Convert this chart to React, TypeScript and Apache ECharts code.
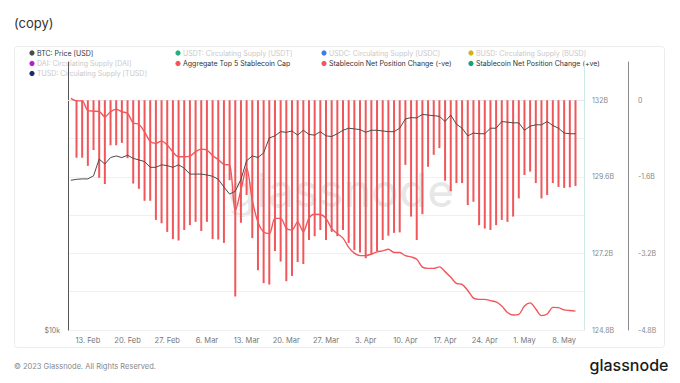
import React, { useEffect, useRef } from 'react';
import * as echarts from 'echarts';

// Daily dates (UTC) of the lines
const dates = [
  '2023-02-10','2023-02-11','2023-02-12','2023-02-13','2023-02-14','2023-02-15','2023-02-16','2023-02-17','2023-02-18','2023-02-19',
  '2023-02-20','2023-02-21','2023-02-22','2023-02-23','2023-02-24','2023-02-25','2023-02-26','2023-02-27','2023-02-28','2023-03-01',
  '2023-03-02','2023-03-03','2023-03-04','2023-03-05','2023-03-06','2023-03-07','2023-03-08','2023-03-09','2023-03-10','2023-03-11',
  '2023-03-12','2023-03-13','2023-03-14','2023-03-15','2023-03-16','2023-03-17','2023-03-18','2023-03-19','2023-03-20','2023-03-21',
  '2023-03-22','2023-03-23','2023-03-24','2023-03-25','2023-03-26','2023-03-27','2023-03-28','2023-03-29','2023-03-30','2023-03-31',
  '2023-04-01','2023-04-02','2023-04-03','2023-04-04','2023-04-05','2023-04-06','2023-04-07','2023-04-08','2023-04-09','2023-04-10',
  '2023-04-11','2023-04-12','2023-04-13','2023-04-14','2023-04-15','2023-04-16','2023-04-17','2023-04-18','2023-04-19','2023-04-20',
  '2023-04-21','2023-04-22','2023-04-23','2023-04-24','2023-04-25','2023-04-26','2023-04-27','2023-04-28','2023-04-29','2023-04-30',
  '2023-05-01','2023-05-02','2023-05-03','2023-05-04','2023-05-05','2023-05-06','2023-05-07','2023-05-08','2023-05-09','2023-05-10',
];
// one empty day of padding at the right end of the time axis
const padDates = ['2023-05-11'];

// BTC: Price [USD]
const btcPrice = [
  21700, 21800, 21850, 21850, 22200, 24200, 23600, 24400, 24600, 24400,
  24700, 24300, 24100, 23900, 23200, 23200, 23500, 23400, 23200, 23500,
  23100, 22400, 22400, 22400, 22300, 22150, 21800, 20950, 20200, 20500,
  21800, 24000, 24600, 24400, 25000, 27000, 27300, 27900, 27800, 28000,
  27400, 28100, 27500, 27400, 27900, 27300, 27200, 27600, 28100, 28400,
  28300, 28200, 27800, 28100, 28100, 28000, 27900, 27900, 28400, 29800,
  30000, 29950, 30500, 30400, 30300, 30200, 29400, 30400, 29000, 28400,
  27300, 27700, 27600, 27600, 28400, 28400, 29400, 29300, 29200, 29200,
  28100, 28700, 28900, 28900, 29400, 28800, 28400, 27700, 27600, 27600,
];

// Aggregate Top 5 Stablecoin Cap [billion USD]
const aggregateCapB = [
  132.06, 131.98, 131.98, 131.68, 131.66, 131.65, 131.48, 131.64, 131.72, 131.64,
  131.59, 131.29, 131.25, 131.01, 130.71, 130.65, 130.72, 130.60, 130.38, 130.23,
  130.23, 130.25, 130.39, 130.47, 130.44, 130.27, 130.14, 129.99, 129.97, 128.53,
  129.19, 129.88, 128.87, 128.18, 127.87, 127.82, 128.30, 128.30, 127.99, 127.93,
  128.19, 127.88, 128.31, 128.43, 128.42, 128.30, 127.98, 127.82, 127.68, 127.39,
  127.21, 127.13, 127.13, 127.18, 127.25, 127.28, 127.33, 127.23, 127.23, 127.13,
  127.09, 127.02, 126.77, 126.73, 126.73, 126.78, 126.63, 126.45, 126.26, 126.23,
  126.04, 125.80, 125.76, 125.76, 125.72, 125.68, 125.55, 125.35, 125.27, 125.29,
  125.55, 125.65, 125.46, 125.25, 125.30, 125.51, 125.50, 125.43, 125.41, 125.39,
];

// Stablecoin Net Position Change (-ve) [billion USD], from 2023-02-11
const netChangeB = [
  -1.20, -1.20, -1.37, -1.04, -1.62, -1.75, -0.94, -0.94, -0.89, -1.21,
  -1.74, -1.85, -2.10, -2.10, -2.50, -2.57, -2.75, -2.90, -2.93, -2.71,
  -2.61, -2.54, -2.73, -2.54, -2.90, -2.91, -2.98, -1.67, -4.10, -2.56,
  -1.98, -2.88, -3.55, -3.82, -3.85, -3.15, -3.37, -3.78, -3.67, -3.38,
  -3.42, -2.92, -2.84, -2.71, -2.92, -2.75, -2.84, -2.71, -2.98, -3.13,
  -3.18, -3.30, -3.23, -3.16, -2.92, -2.83, -2.77, -2.76, -1.35, -2.43,
  -2.92, -2.38, -1.39, -1.14, -1.00, -1.68, -1.90, -1.73, -1.73, -2.19,
  -2.12, -2.61, -2.68, -2.71, -2.61, -2.50, -2.54, -2.43, -2.05, -1.56,
  -1.49, -1.73, -2.05, -1.98, -1.73, -1.81, -1.83, -1.82, -1.79,
];

const monthNames = ['Jan','Feb','Mar','Apr','May','Jun','Jul','Aug','Sep','Oct','Nov','Dec'];

const legendItems = [
  { name: 'BTC: Price [USD]', color: '#4a4a4a', active: true },
  { name: 'USDT: Circulating Supply [USDT]', color: '#22b07d', active: false },
  { name: 'USDC: Circulating Supply [USDC]', color: '#3b7ded', active: false },
  { name: 'BUSD: Circulating Supply [BUSD]', color: '#d2b21c', active: false },
  { name: 'DAI: Circulating Supply [DAI]', color: '#b51fc9', active: false },
  { name: 'Aggregate Top 5 Stablecoin Cap', color: '#f0575b', active: true },
  { name: 'Stablecoin Net Position Change (-ve)', color: '#f0575b', active: true },
  { name: 'Stablecoin Net Position Change (+ve)', color: '#14a27a', active: true },
  { name: 'TUSD: Circulating Supply [TUSD]', color: '#1f2870', active: false },
];

const FONT = 'Inter, "Noto Sans", sans-serif';
const RED = '#f0575b';

export default function App() {
  const ref = useRef<HTMLDivElement>(null);

  useEffect(() => {
    const chart = echarts.init(ref.current!, null, { renderer: 'svg' });
    const categories = [...dates, ...padDates];
    const btcData = btcPrice.map((v) => v);
    const aggData = aggregateCapB.map((v) => v * 1e9);
    const netData: (number | null)[] = [null, ...netChangeB.map((v) => v * 1e9)];

    const colX = [32, 178, 324, 471];
    const rowY = [53, 63.5, 73.5];
    const legendGraphics: any[] = [];
    legendItems.forEach((it, i) => {
      const col = i % 4;
      const row = Math.floor(i / 4);
      legendGraphics.push({
        type: 'circle',
        shape: { cx: colX[col], cy: rowY[row], r: 2.6 },
        style: { fill: it.color },
        silent: true,
      });
      legendGraphics.push({
        type: 'text',
        x: colX[col] + 5,
        y: rowY[row],
        style: {
          text: it.name,
          fill: it.active ? '#333' : '#c9c9c9',
          fontSize: 7,
          fontFamily: FONT,
          verticalAlign: 'middle',
        },
        silent: true,
      });
    });

    const option: any = {
      animation: false,
      backgroundColor: '#fff',
      textStyle: { fontFamily: FONT },
      grid: { left: 68, right: 96, top: 62, bottom: 53, containLabel: false },
      xAxis: {
        type: 'category',
        data: categories,
        boundaryGap: true,
        axisLine: { show: true, lineStyle: { color: '#e8e8e8' } },
        axisTick: { show: false },
        splitLine: { show: false },
        axisLabel: {
          interval: (_idx: number, value: string) => new Date(value + 'T00:00:00Z').getUTCDay() === 1,
          formatter: (value: string) => {
            const d = new Date(value + 'T00:00:00Z');
            return `${d.getUTCDate()}. ${monthNames[d.getUTCMonth()]}`;
          },
          color: '#777',
          fontSize: 7.5,
          fontFamily: FONT,
          margin: 6,
        },
      },
      yAxis: [
        {
          type: 'log',
          logBase: 10,
          min: 10000,
          max: 40000,
          position: 'left',
          axisLine: { show: true, lineStyle: { color: '#555' } },
          axisTick: { show: false },
          splitLine: { show: false },
          axisLabel: {
            formatter: (v: number) => (Math.abs(v - 10000) < 1 ? '$10k' : ''),
            color: '#777',
            fontSize: 7,
            fontFamily: FONT,
            margin: 8,
            padding: [0, 0, 5, 0],
            showMaxLabel: false,
          },
        },
        {
          type: 'value',
          min: 124.8e9,
          max: 133.2e9,
          interval: 1.2e9,
          position: 'right',
          offset: 0,
          axisLine: { show: true, lineStyle: { color: '#cfeae5' } },
          axisTick: { show: false },
          splitLine: { show: false },
          axisLabel: {
            formatter: (v: number) => {
              const k = Math.round((v - 124.8e9) / 1.2e9);
              if (k % 2 !== 0 || k > 6) return '';
              return `${parseFloat((v / 1e9).toFixed(1))}B`;
            },
            color: '#888',
            fontSize: 7,
            fontFamily: FONT,
            margin: 8,
            padding: [0, 0, 5, 0],
          },
        },
        {
          type: 'value',
          min: -4.8e9,
          max: 0.8e9,
          interval: 0.8e9,
          position: 'right',
          offset: 44,
          axisLine: { show: true, lineStyle: { color: '#8a8a8a' } },
          axisTick: { show: false },
          splitLine: { show: true, showMaxLine: false, lineStyle: { color: '#f0f0f0', width: 1 } },
          axisLabel: {
            formatter: (v: number) => {
              const k = Math.round((v + 4.8e9) / 0.8e9);
              if (k % 2 !== 0 || k > 6) return '';
              if (Math.abs(v) < 1) return '0';
              return `${parseFloat((v / 1e9).toFixed(1))}B`;
            },
            color: '#888',
            fontSize: 7,
            fontFamily: FONT,
            margin: 10,
            padding: [0, 0, 5, 0],
          },
        },
      ],
      series: [
        {
          name: 'Stablecoin Net Position Change (-ve)',
          type: 'bar',
          yAxisIndex: 2,
          data: netData,
          barWidth: 2,
          itemStyle: { color: RED },
          z: 2,
        },
        {
          name: 'Aggregate Top 5 Stablecoin Cap',
          type: 'line',
          yAxisIndex: 1,
          data: aggData,
          showSymbol: false,
          smooth: 0.3,
          lineStyle: { color: RED, width: 1.4 },
          itemStyle: { color: RED },
          z: 3,
        },
        {
          name: 'BTC: Price [USD]',
          type: 'line',
          yAxisIndex: 0,
          data: btcData,
          showSymbol: false,
          lineStyle: { color: '#4a4a4a', width: 1 },
          itemStyle: { color: '#4a4a4a' },
          z: 4,
        },
      ],
      graphic: [
        {
          type: 'text',
          x: 341,
          y: 190,
          z: -10,
          silent: true,
          style: {
            text: 'glassnode',
            fill: 'rgba(0,0,0,0.09)',
            fontSize: 46,
            fontWeight: 500,
            fontFamily: FONT,
            align: 'center',
            verticalAlign: 'middle',
          },
        },
        {
          type: 'rect',
          silent: true,
          z: -11,
          shape: { x: 14.5, y: 46.5, width: 650, height: 301, r: 3 },
          style: { fill: 'none', stroke: '#ececec', lineWidth: 1 },
        },
        {
          type: 'text',
          x: 14,
          y: 23,
          silent: true,
          style: { text: '(copy)', fill: '#333', fontSize: 13, fontFamily: FONT, verticalAlign: 'middle' },
        },
        {
          type: 'text',
          x: 14,
          y: 366,
          silent: true,
          style: {
            text: '© 2023 Glassnode. All Rights Reserved.',
            fill: '#888',
            fontSize: 7.5,
            fontFamily: FONT,
            verticalAlign: 'middle',
          },
        },
        {
          type: 'text',
          x: 629,
          y: 365,
          silent: true,
          style: {
            text: 'glassnode',
            fill: '#1a1a1a',
            fontSize: 16,
            fontWeight: 500,
            fontFamily: FONT,
            align: 'center',
            verticalAlign: 'middle',
          },
        },
        ...legendGraphics,
      ],
    };

    chart.setOption(option);
    return () => chart.dispose();
  }, []);

  return (
    <div
      ref={ref}
      style={{ position: 'fixed', left: 0, top: 0, width: 680, height: 383, background: '#fff' }}
    />
  );
}
